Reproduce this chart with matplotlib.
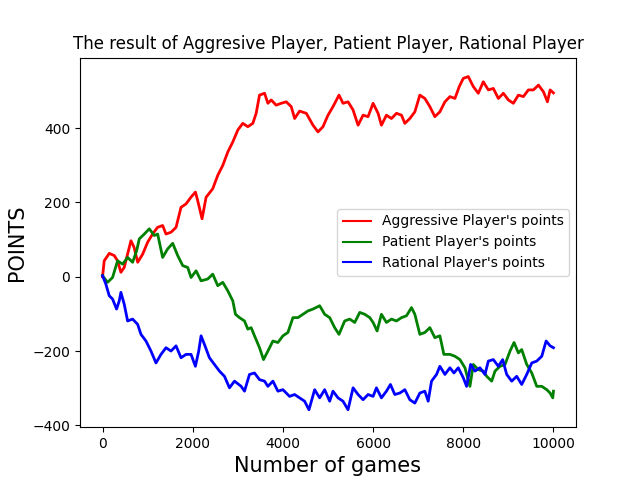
import matplotlib
matplotlib.use('Agg')
import matplotlib.pyplot as plt

# values (game number, points)
aggressive_games = [0, 37, 150, 260, 333, 407, 480, 630, 700, 780, 890, 1000, 1110, 1220, 1333,
                    1407, 1520, 1630, 1740, 1850, 1960, 2060, 2110, 2207, 2296, 2444, 2555, 2667,
                    2778, 2889, 3000, 3110, 3222, 3333, 3407, 3481, 3593, 3667, 3740, 3850, 3963,
                    4074, 4185, 4260, 4370, 4519, 4667, 4778, 4889, 5000, 5111, 5244, 5333, 5444,
                    5556, 5667, 5778, 5889, 6000, 6111, 6185, 6296, 6407, 6519, 6630, 6704, 6815,
                    6926, 7037, 7148, 7259, 7370, 7481, 7593, 7704, 7815, 7911, 8000, 8111, 8222,
                    8333, 8444, 8556, 8667, 8778, 8889, 9000, 9111, 9222, 9333, 9444, 9556, 9667,
                    9778, 9867, 9926, 10000]
aggressive_points = [0, 43, 63, 57, 43, 12, 25, 97, 79, 39, 61, 93, 115, 133, 138,
                     115, 120, 133, 187, 196, 214, 228, 205, 156, 214, 237, 273, 300,
                     336, 363, 395, 413, 404, 413, 440, 489, 494, 467, 476, 462, 467,
                     471, 458, 426, 446, 440, 408, 390, 404, 435, 458, 489, 467, 471,
                     449, 408, 435, 431, 467, 440, 408, 435, 426, 440, 435, 413, 426,
                     444, 489, 480, 458, 431, 444, 471, 485, 480, 512, 534, 539, 512,
                     494, 525, 503, 507, 480, 494, 476, 467, 489, 485, 503, 503, 516,
                     498, 471, 503, 495]

patient_games = [0, 111, 222, 333, 444, 556, 667, 756, 815, 926, 1037, 1148, 1222, 1333, 1444,
                 1556, 1667, 1778, 1889, 1963, 2074, 2185, 2333, 2444, 2555, 2667, 2778, 2889,
                 2948, 3037, 3148, 3222, 3296, 3370, 3481, 3570, 3667, 3778, 3889, 4000, 4111,
                 4222, 4333, 4444, 4555, 4667, 4815, 4926, 5037, 5148, 5244, 5370, 5481, 5593,
                 5704, 5815, 5926, 6000, 6089, 6185, 6296, 6407, 6519, 6630, 6741, 6852, 6926,
                 7037, 7148, 7259, 7370, 7481, 7570, 7704, 7815, 7926, 8037, 8148, 8222, 8333,
                 8444, 8519, 8630, 8704, 8815, 8926, 9037, 9126, 9222, 9296, 9407, 9519, 9630,
                 9741, 9852, 9926, 9985, 10000]
patient_points = [3, -15, -2, 43, 34, 52, 39, 70, 102, 115, 129, 111, 115, 52, 75,
                  90, 57, 30, 25, -2, 16, -11, -6, 7, -24, -15, -38, -65,
                  -101, -110, -119, -141, -137, -159, -191, -223, -200, -173, -177, -159, -150,
                  -110, -110, -101, -92, -87, -78, -101, -110, -137, -155, -119, -114, -123,
                  -96, -101, -110, -123, -146, -101, -123, -114, -119, -110, -105, -83, -101,
                  -155, -150, -137, -164, -159, -209, -209, -214, -223, -245, -295, -236, -250,
                  -254, -268, -281, -254, -241, -236, -200, -177, -205, -196, -236, -259, -295,
                  -295, -304, -313, -326, -308]

rational_games = [0, 74, 148, 222, 311, 370, 407, 481, 556, 667, 778, 852, 963, 1074, 1185,
                  1296, 1407, 1518, 1630, 1740, 1852, 1963, 2059, 2133, 2185, 2259, 2370, 2481,
                  2593, 2704, 2815, 2926, 3074, 3148, 3259, 3370, 3481, 3593, 3667, 3778, 3889,
                  4000, 4148, 4259, 4370, 4481, 4578, 4704, 4815, 4926, 5037, 5111, 5222, 5333,
                  5444, 5556, 5667, 5778, 5889, 6000, 6074, 6185, 6296, 6385, 6481, 6593, 6704,
                  6815, 6926, 7037, 7148, 7222, 7296, 7407, 7481, 7593, 7704, 7793, 7889, 8000,
                  8074, 8163, 8259, 8370, 8481, 8556, 8667, 8778, 8874, 8963, 9074, 9185, 9296,
                  9407, 9519, 9630, 9741, 9837, 9926, 10000]
rational_points = [3, -20, -51, -60, -87, -65, -42, -74, -119, -114, -128, -155, -173, -200, -232,
                   -209, -191, -200, -186, -218, -209, -209, -241, -200, -159, -182, -218, -236,
                   -254, -268, -299, -281, -295, -308, -263, -259, -277, -281, -295, -281, -308,
                   -304, -322, -317, -326, -335, -358, -304, -326, -304, -335, -308, -326, -335,
                   -358, -299, -317, -331, -317, -322, -299, -326, -308, -290, -317, -313, -304,
                   -331, -340, -313, -308, -335, -281, -263, -241, -263, -245, -259, -245, -272,
                   -295, -236, -254, -245, -263, -227, -223, -241, -223, -263, -281, -268, -290,
                   -263, -232, -227, -214, -173, -186, -191]

fig = plt.figure(figsize=(6.4, 4.8), dpi=100)
ax = fig.add_subplot(111)
ax.plot(aggressive_games, aggressive_points, color='red', lw=2, label="Aggressive Player's points")
ax.plot(patient_games, patient_points, color='green', lw=2, label="Patient Player's points")
ax.plot(rational_games, rational_points, color='blue', lw=2, label="Rational Player's points")
ax.set_ylim(-405, 590)
ax.set_title("The result of Aggresive Player, Patient Player, Rational Player")
ax.set_xlabel("Number of games", fontsize=15)
ax.set_ylabel("POINTS", fontsize=15)
leg = ax.legend(loc='center right')
for line in leg.get_lines():
    line.set_linewidth(1.5)

plt.savefig('out.png', dpi=100)
plt.close()
